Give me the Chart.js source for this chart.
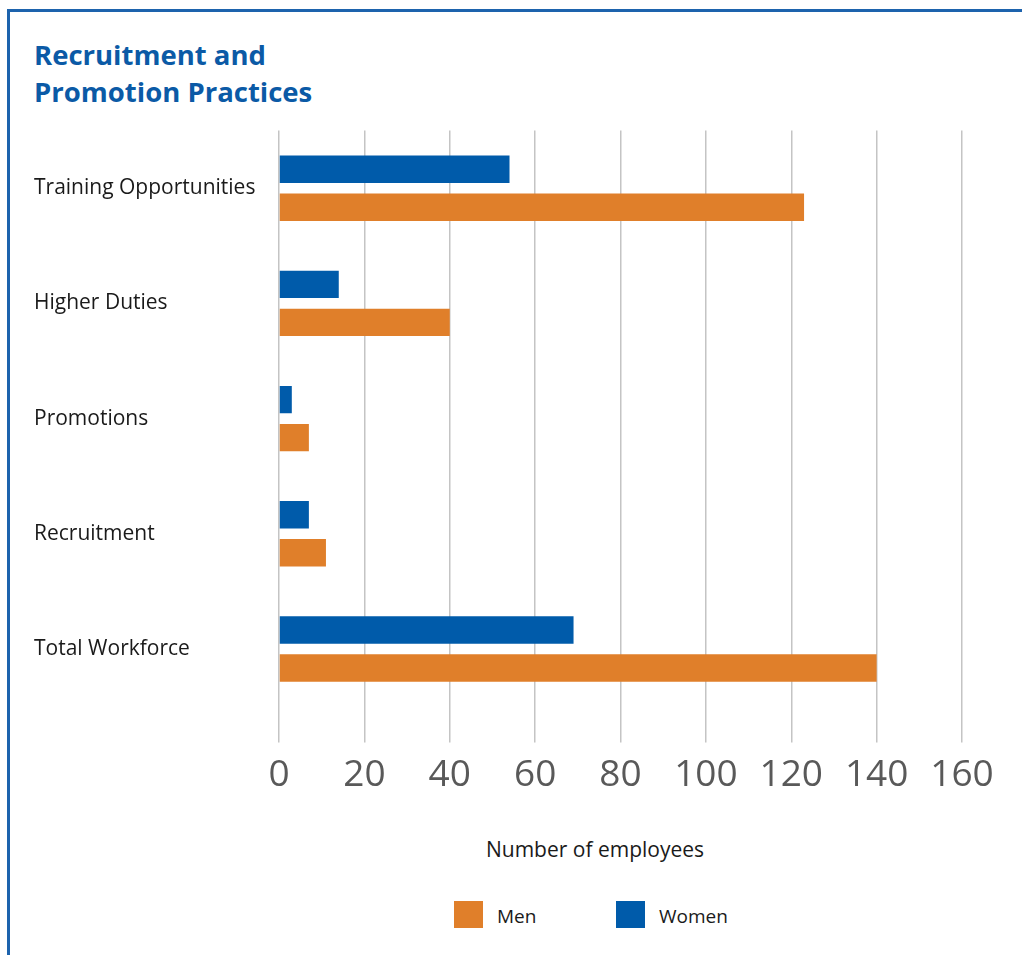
<!DOCTYPE html>
<html lang="en">
<head>
<meta charset="utf-8">
<title>Recruitment and Promotion Practices</title>
<script src="https://cdn.jsdelivr.net/npm/chart.js@4.4.1/dist/chart.umd.min.js"></script>
<style>
    html, body {
        margin: 0;
        padding: 0;
        background: #fff;
        overflow: hidden;
        font-family: 'Open Sans', sans-serif;
    }
    /* card frame runs off the right and bottom of the page */
    .panel {
        position: absolute;
        left: 7px;
        top: 9px;
        width: 1200px;
        height: 1100px;
        border: 3px solid #1d63ad;
    }
    .chart-title {
        position: absolute;
        left: 34px;
        top: 36px;
        margin: 0;
        font-size: 27.5px;
        font-weight: 700;
        line-height: 37px;
        color: #0b5aa6;
    }
    .chart-wrap {
        position: absolute;
        left: 10px;
        top: 115px;
        width: 1012px;
        height: 705px;
    }
    .axis-caption {
        position: absolute;
        left: 395px;
        top: 835px;
        width: 400px;
        text-align: center;
        font-size: 21px;
        line-height: 28px;
        color: #1a1a1a;
    }
    .legend {
        position: absolute;
        left: 454px;
        top: 901px;
        margin: 0;
        padding: 0;
        list-style: none;
        display: flex;
    }
    .legend li {
        width: 162px;
        height: 27px;
        display: flex;
        align-items: flex-start;
    }
    .legend .swatch {
        width: 29px;
        height: 27px;
        margin-right: 14px;
    }
    .legend .label {
        font-size: 19px;
        line-height: 27px;
        padding-top: 2px;
        color: #1a1a1a;
    }
</style>
</head>
<body>
<div class="panel"></div>
<h2 class="chart-title">Recruitment and<br>Promotion Practices</h2>
<div class="chart-wrap"><canvas id="practices-chart"></canvas></div>
<div class="axis-caption">Number of employees</div>
<ul class="legend" id="practices-legend"></ul>

<script>
// Employees by practice and gender
const categories = ['Training Opportunities', 'Higher Duties', 'Promotions', 'Recruitment', 'Total Workforce'];
const womenCounts = [54, 14, 3, 7, 69];
const menCounts = [123, 40, 7, 11, 140];

// Axis range
const axisMin = 0;
const axisMax = 160;
const axisStep = 20;

const colors = {
    women: '#005baa',
    men: '#e07f2a',
    grid: '#c4c4c4',
    tick: '#595959',
    label: '#1a1a1a'
};

Chart.defaults.font.family = "'Open Sans', sans-serif";

// Build the legend as a list below the chart, men first
function renderLegend(chart) {
    const list = document.getElementById('practices-legend');
    list.innerHTML = '';
    const items = chart.options.plugins.legend.labels.generateLabels(chart).reverse();
    items.forEach(item => {
        const li = document.createElement('li');
        const box = document.createElement('span');
        box.className = 'swatch';
        box.style.background = item.fillStyle;
        const text = document.createElement('span');
        text.className = 'label';
        text.textContent = item.text;
        li.appendChild(box);
        li.appendChild(text);
        list.appendChild(li);
    });
}

function initPracticesChart() {
    const ctx = document.getElementById('practices-chart');
    if (!ctx) return null;

    return new Chart(ctx.getContext('2d'), {
        type: 'bar',
        data: {
            labels: categories,
            datasets: [{
                label: 'Women',
                data: womenCounts,
                backgroundColor: colors.women,
                borderWidth: 0
            }, {
                label: 'Men',
                data: menCounts,
                backgroundColor: colors.men,
                borderWidth: 0
            }]
        },
        options: {
            indexAxis: 'y',
            responsive: true,
            maintainAspectRatio: false,
            animation: false,
            categoryPercentage: 0.66,
            barPercentage: 0.72,
            layout: {
                padding: { top: 9, left: 24, right: 60, bottom: 11 }
            },
            plugins: {
                legend: { display: false },
                title: { display: false },
                tooltip: { enabled: false }
            },
            scales: {
                x: {
                    min: axisMin,
                    max: axisMax,
                    border: { display: false },
                    grid: {
                        color: colors.grid,
                        lineWidth: 1.5,
                        tickLength: 36,
                        tickColor: colors.grid
                    },
                    ticks: {
                        stepSize: axisStep,
                        padding: 11,
                        color: colors.tick,
                        font: { size: 37 }
                    }
                },
                y: {
                    border: { display: false },
                    grid: { display: false },
                    ticks: {
                        crossAlign: 'far',
                        color: colors.label,
                        font: { size: 21 }
                    },
                    afterFit: function(scale) {
                        // keep the bars starting at the same place regardless of label widths
                        scale.width = 245;
                    }
                }
            }
        }
    });
}

const practicesChart = initPracticesChart();
if (practicesChart) renderLegend(practicesChart);
</script>
</body>
</html>
